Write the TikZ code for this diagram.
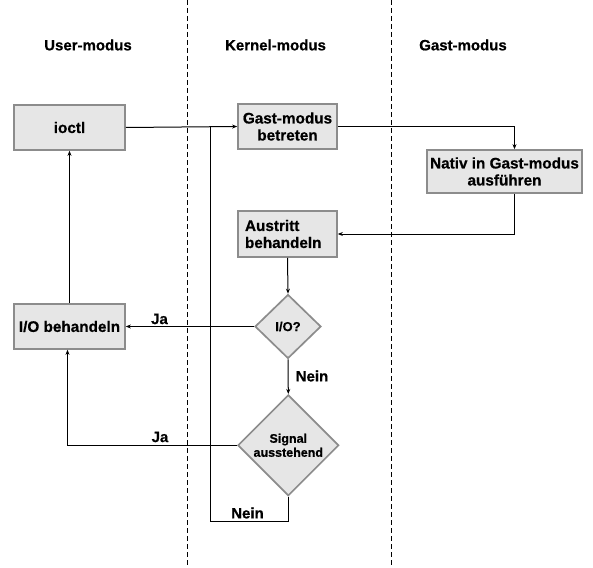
\documentclass[tikz,border=0pt]{standalone}
\usepackage{fontspec}
\setmainfont{Liberation Sans}[BoldFeatures={FakeBold=0.6}]
\usetikzlibrary{shapes.geometric,arrows.meta}
\definecolor{boxfill}{HTML}{E6E6E6}
\definecolor{boxline}{HTML}{8C8C8C}
\begin{document}
\begin{tikzpicture}[x=1pt,y=-1pt,
  box/.style={draw=boxline,fill=boxfill,line width=1.7pt,font=\bfseries\fontsize{15.3}{17}\selectfont,align=center,inner sep=2pt},
  dec/.style={diamond,draw=boxline,fill=boxfill,line width=1.7pt,aspect=1,inner sep=0pt,align=center},
  arr/.style={-{Stealth[length=5pt,width=4pt]},line width=1pt},
  conn/.style={line width=1pt},
  lane/.style={dashed,dash pattern=on 5pt off 3pt,line width=1pt},
  hdr/.style={font=\bfseries\fontsize{15}{17}\selectfont},
  lbl/.style={font=\bfseries\fontsize{15}{17}\selectfont}]
\useasboundingbox (0,0) rectangle (593,567);
\draw[lane] (187,0) -- (187,567);
\draw[lane] (391,0) -- (391,567);
\node[hdr] (h1) at (88,45) {User-modus};
\node[hdr] (h2) at (275.5,45) {Kernel-modus};
\node[hdr] (h3) at (463,45) {Gast-modus};
\node[box,minimum width=111,minimum height=45] (ioctl) at (69.5,127.5) {ioctl};
\node[box,minimum width=99,minimum height=45] (gast) at (287.5,126.5) {Gast-modus\\betreten};
\node[box,minimum width=155,minimum height=43] (nativ) at (504.5,171.5) {Nativ in Gast-modus\\ausführen};
\node[box,minimum width=99,minimum height=46,align=left,text width=85] (aus) at (287.5,234) {Austritt\\behandeln};
\node[box,minimum width=111,minimum height=45] (iob) at (69.5,326.5) {I/O behandeln};
\node[dec,minimum width=66,minimum height=64,font=\bfseries\fontsize{13}{15}\selectfont] (io) at (288,326.5) {I/O?};
\node[dec,minimum width=101,minimum height=101,font=\bfseries\fontsize{12.5}{14}\selectfont] (sig) at (288.3,445.3) {Signal\\ausstehend};
\coordinate (lc) at (210.5,521.5);
\coordinate (jn) at (210.5,127);
\draw[arr] (ioctl.east) -- (gast.west);
\draw[arr] (gast.east) -| ([xshift=10pt]nativ.north);
\draw[arr] ([xshift=10pt]nativ.south) |- (aus.east);
\draw[arr] (aus.south) -- (io.north);
\draw[arr] (io.west) -- (iob.east);
\draw[arr] (io.south) -- (sig.north);
\draw[arr] (sig.west) -| ([xshift=-2pt]iob.south);
\draw[arr] (iob.north) -- (ioctl.south);
\draw[conn] (sig.south) |- (lc) -- (jn);
\node[lbl] (ja1) at (159.5,319) {Ja};
\node[lbl] (nein1) at (312,376) {Nein};
\node[lbl] (ja2) at (160,437) {Ja};
\node[lbl] (nein2) at (247.5,513) {Nein};
\end{tikzpicture}
\end{document}
